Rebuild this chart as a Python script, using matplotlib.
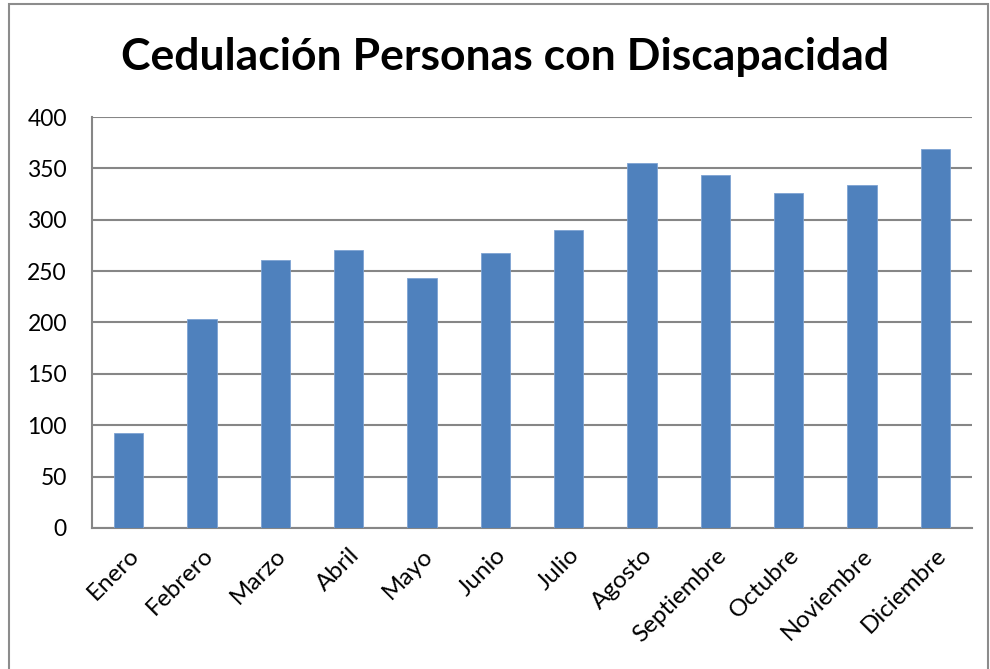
import matplotlib.pyplot as plt
from matplotlib.patches import Rectangle
import numpy as np

# Datos del gráfico
meses = ["Enero", "Febrero", "Marzo", "Abril", "Mayo", "Junio", "Julio",
         "Agosto", "Septiembre", "Octubre", "Noviembre", "Diciembre"]
cedulados = [92, 203, 261, 271, 243, 268, 290, 355, 344, 326, 334, 369]
y_ticks = [0, 50, 100, 150, 200, 250, 300, 350, 400]

plt.rcParams['font.family'] = ['Lato', 'DejaVu Sans']

fig = plt.figure(figsize=(9.9, 6.69), dpi=100)
ax = fig.add_axes([0.0929, 0.2108, 0.8889, 0.6143])

# marco exterior del gráfico
fig.patches.append(Rectangle((9 / 990, -0.05), 979 / 990, 1.05 - 4 / 669,
                             transform=fig.transFigure, fill=False,
                             edgecolor='#8c8c8c', linewidth=1.5))

x = np.arange(len(meses))
ax.bar(x, cedulados, width=0.4, color='#4F81BD', edgecolor='#7ea3d3',
       linewidth=0.6, zorder=3)

ax.set_ylim(0, 400)
ax.set_xlim(-0.5, len(meses) - 0.5)
ax.set_yticks(y_ticks)
ax.set_xticks(x)
ax.set_xticklabels(meses, rotation=45, ha='right', va='top',
                   rotation_mode='anchor', fontsize=17.5)
ax.tick_params(axis='y', labelsize=16.5, length=0, pad=18)
ax.tick_params(axis='x', length=0, pad=12)
ax.grid(axis='y', color='#868686', linewidth=1.5, zorder=0)

for side in ['top', 'right']:
    ax.spines[side].set_visible(False)
for side in ['left', 'bottom']:
    ax.spines[side].set_color('#868686')
    ax.spines[side].set_linewidth(1.5)

fig.text(0.51, 0.915, "Cedulación Personas con Discapacidad",
         ha='center', va='center', fontsize=32, fontweight='bold')

fig.savefig("out.png", dpi=100)
